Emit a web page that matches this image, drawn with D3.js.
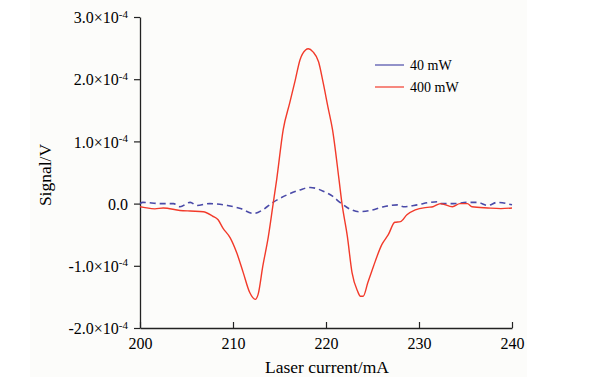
<!DOCTYPE html>
<html>
<head>
<meta charset="utf-8">
<script src="https://cdn.jsdelivr.net/npm/d3@7"></script>
<style>
  body { margin: 0; background: #fff; }
  svg { display: block; font-family: "Liberation Serif", "Times New Roman", serif; }
</style>
</head>
<body>
<div id="chart"></div>
<script>
// Données (courant en mA, signal en unités de 1e-4 V)
const current400 = [200.0, 200.4, 201.6, 202.5, 204.3, 205.4, 206.8, 207.8, 208.4, 208.9, 209.7, 210.4, 211.1, 211.8, 212.4, 212.7, 213.2, 213.8, 214.3, 214.7, 215.4, 216.1, 216.7, 217.2, 217.8, 218.1, 218.6, 219.2, 219.7, 220.2, 220.7, 221.4, 221.7, 222.3, 222.8, 223.4, 223.7, 224.0, 224.5, 225.1, 226.0, 226.7, 227.4, 228.0, 228.7, 229.6, 230.9, 231.5, 232.3, 233.6, 234.4, 235.2, 235.7, 237.4, 238.8, 240.0];
const signal400 = [-0.05, -0.06, -0.085, -0.07, -0.11, -0.12, -0.13, -0.20, -0.26, -0.39, -0.55, -0.79, -1.11, -1.43, -1.54, -1.46, -1.01, -0.53, -0.02, 0.39, 1.19, 1.62, 1.99, 2.31, 2.47, 2.49, 2.44, 2.28, 1.94, 1.56, 1.19, 0.385, 0.02, -0.53, -1.11, -1.41, -1.49, -1.49, -1.27, -1.01, -0.66, -0.50, -0.30, -0.29, -0.18, -0.10, -0.06, -0.05, 0.0, -0.05, 0.0, 0.0, -0.05, -0.07, -0.08, -0.07];

const current40 = [200.0, 200.3, 202.2, 203.6, 204.3, 205.4, 206.1, 207.5, 209.4, 210.8, 212.2, 213.2, 214.3, 215.8, 217.2, 218.3, 219.7, 220.7, 221.5, 222.6, 223.5, 224.8, 226.2, 227.7, 228.3, 229.8, 231.2, 232.0, 232.3, 233.7, 235.2, 236.3, 237.4, 238.4, 240.0];
const signal40 = [0.0, 0.02, 0.0, 0.0, -0.05, 0.02, -0.03, 0.0, -0.03, -0.08, -0.16, -0.10, 0.02, 0.14, 0.22, 0.26, 0.20, 0.12, 0.02, -0.09, -0.13, -0.11, -0.05, -0.02, -0.05, -0.02, 0.02, 0.03, 0.0, 0.0, 0.02, 0.02, -0.03, 0.02, -0.02];

const xTicks = [200, 210, 220, 230, 240];
const yTicks = [3, 2, 1, 0, -1, -2];
const yLabels = ["3.0", "2.0", "1.0", "0.0", "-1.0", "-2.0"];

const series = [
    { name: "40 mW", xs: current40, ys: signal40, color: "#4a4aa8", dash: "6,4", width: 1.6 },
    { name: "400 mW", xs: current400, ys: signal400, color: "#f23a2a", dash: null, width: 1.4 }
];

// 1. Dimensions
const W = 591, H = 377;
const margin = { top: 17, right: 79, bottom: 49, left: 140 };
const width = W - margin.left - margin.right;
const height = H - margin.top - margin.bottom;

const svg = d3.select("#chart").append("svg")
    .attr("width", W)
    .attr("height", H);

// fond légèrement cassé de la figure d'origine
svg.append("rect")
    .attr("x", 30).attr("y", 0)
    .attr("width", 497).attr("height", H)
    .attr("fill", "#fcfcfa");

const g = svg.append("g")
    .attr("transform", `translate(${margin.left},${margin.top})`);

// --- ÉCHELLES ---
const x = d3.scaleLinear().domain([200, 240]).range([0, width]);
const y = d3.scaleLinear().domain([-2, 3]).range([height, 0]);

// --- AXES ---
const xAxis = g.append("g")
    .attr("transform", `translate(0,${height})`)
    .call(d3.axisBottom(x).tickValues(xTicks).tickSize(0).tickPadding(10).tickSizeOuter(0));
xAxis.select(".domain").attr("stroke", "#222").attr("stroke-width", 1.3);
xAxis.selectAll(".tick line").remove();
xAxis.selectAll(".tick").append("line")
    .attr("y1", 0).attr("y2", -6)
    .attr("stroke", "#222").attr("stroke-width", 1.2);
xAxis.selectAll("text")
    .attr("fill", "#000")
    .style("font-size", "16px")
    .style("font-family", "Liberation Serif");

const yAxis = g.append("g")
    .call(d3.axisLeft(y).tickValues(yTicks).tickSize(6).tickPadding(5).tickSizeOuter(0).tickFormat(""));
yAxis.select(".domain").attr("stroke", "#222").attr("stroke-width", 1.3);
yAxis.selectAll(".tick line").attr("stroke", "#222").attr("stroke-width", 1.2);

// libellés avec exposant
yAxis.selectAll(".tick").each(function(d, i) {
    const t = d3.select(this).append("text")
        .attr("x", -12)
        .attr("dy", "0.35em")
        .attr("text-anchor", "end")
        .attr("fill", "#000")
        .style("font-size", "16px")
        .style("font-family", "Liberation Serif");
    const lab = yLabels[i];
    if (d === 0) {
        t.text(lab);
    } else {
        t.append("tspan").text(lab + "\u00d710");
        t.append("tspan")
            .attr("dy", "-0.5em")
            .style("font-size", "11px")
            .text("-4");
    }
});

// --- COURBES ---
const line = d3.line()
    .x(d => x(d[0]))
    .y(d => y(d[1]))
    .curve(d3.curveMonotoneX);

series.forEach(s => {
    const pts = s.xs.map((v, i) => [v, s.ys[i]]);
    g.append("path")
        .datum(pts)
        .attr("fill", "none")
        .attr("stroke", s.color)
        .attr("stroke-width", s.width)
        .attr("stroke-dasharray", s.dash)
        .attr("stroke-linejoin", "round")
        .attr("d", line);
});

// --- LÉGENDE ---
const legend = svg.append("g").attr("transform", "translate(375,65)");
series.forEach((s, i) => {
    const row = legend.append("g").attr("transform", `translate(0,${i * 22})`);
    row.append("line")
        .attr("x1", 0).attr("x2", 29)
        .attr("stroke", s.color)
        .attr("stroke-width", 1.2);
    row.append("text")
        .attr("x", 35)
        .attr("dy", "0.35em")
        .attr("fill", "#000")
        .style("font-size", "14px")
        .text(s.name);
});

// --- TITRES DES AXES ---
svg.append("text")
    .attr("x", 327)
    .attr("y", 373)
    .attr("text-anchor", "middle")
    .attr("fill", "#000")
    .style("font-size", "17.5px")
    .text("Laser current/mA");

svg.append("text")
    .attr("transform", "translate(51,175) rotate(-90)")
    .attr("text-anchor", "middle")
    .attr("fill", "#000")
    .style("font-size", "17.5px")
    .text("Signal/V");
</script>
</body>
</html>
